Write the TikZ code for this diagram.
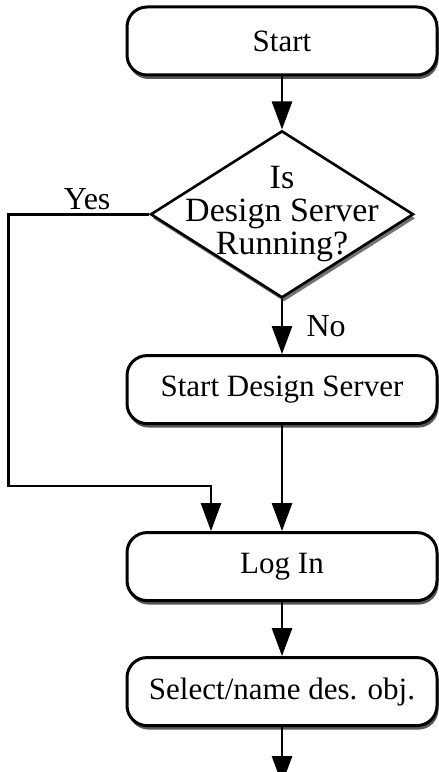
\documentclass[tikz,border=0pt]{standalone}
\usepackage{fontspec}
\setmainfont{Liberation Serif}
\usepackage{tikz}
\usetikzlibrary{arrows.meta,shapes.geometric,shadows,positioning}

\tikzset{
  flowbox/.style={draw,fill=white,rounded corners=20pt,line width=3pt,
    minimum width=310pt,minimum height=68pt,
    font=\fontsize{31}{34}\selectfont,
    drop shadow={shadow xshift=1.5pt,shadow yshift=-4pt,fill=black!65,opacity=1}},
  decision/.style={diamond,draw,fill=white,line width=2.6pt,
    minimum width=263pt,minimum height=167pt,inner sep=-40pt,align=center,
    font=\fontsize{34}{33}\selectfont,
    drop shadow={shadow xshift=2pt,shadow yshift=-4pt,fill=black!55,opacity=1}},
  flow/.style={-{Triangle[length=28pt,width=20pt]},line width=2.6pt},
  answer/.style={font=\fontsize{32}{34}\selectfont}
}

\begin{document}
\begin{tikzpicture}[x=1pt,y=1pt]
\useasboundingbox (0,0) rectangle (439,772);
%\draw[red] (0,0) rectangle (439,772);
\node[flowbox] (start) at (282,731) {Start};
\node[decision] (isrunning) [below=53pt of start] {Is\\Design Server\\Running?};
\node[flowbox] (startserver) [below=55pt of isrunning] {Start Design Server};
\node[flowbox] (login) [below=106pt of startserver] {Log In};
\node[flowbox] (select) [below=54pt of login] {Select/name des. obj.};
\coordinate[below=57pt of select] (next);
\coordinate[above=45pt of login.north,xshift=-71pt] (yesbend);

\path (start) edge[flow] (isrunning);
\path (isrunning) edge[flow] node[answer,right,xshift=20pt] {No} (startserver);
\path (startserver) edge[flow] (login);
\path (login) edge[flow] (select);
\path (select) edge[flow] (next);
\draw[flow] (isrunning.west) -- node[answer,above,pos=0.44] {Yes} ++(-141,0)
  |- (yesbend) -- (yesbend |- login.north);
\end{tikzpicture}
\end{document}
